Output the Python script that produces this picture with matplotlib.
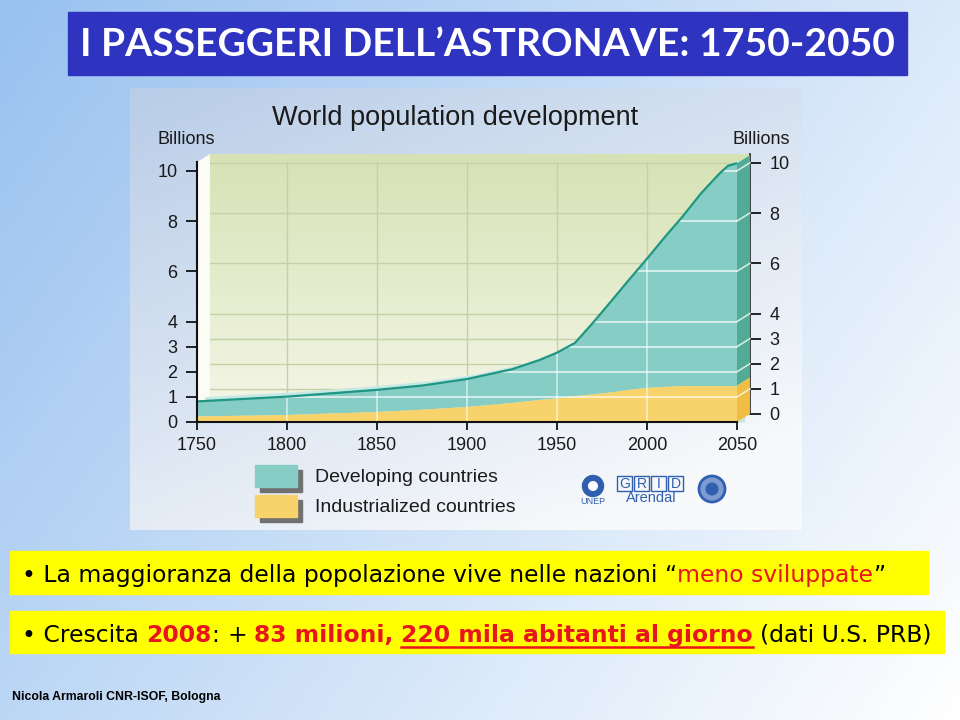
import numpy as np
import matplotlib
matplotlib.use('Agg')
import matplotlib.pyplot as plt
from matplotlib.patches import Rectangle, Polygon, Circle
from matplotlib.path import Path
from matplotlib.colors import to_rgb

W, H = 960, 720

# popolazione mondiale (miliardi)
anni = [1750, 1800, 1850, 1875, 1900, 1925, 1940, 1950, 1960, 1970, 1980,
        1990, 2000, 2010, 2020, 2030, 2040, 2045, 2050]
totale = [0.82, 1.01, 1.28, 1.45, 1.71, 2.10, 2.46, 2.76, 3.15, 3.95, 4.80,
          5.66, 6.50, 7.37, 8.20, 9.10, 9.87, 10.20, 10.30]
industrializzati = [0.24, 0.30, 0.42, 0.51, 0.62, 0.78, 0.90, 0.96, 1.05, 1.12, 1.20,
                    1.30, 1.38, 1.42, 1.45, 1.45, 1.45, 1.45, 1.45]

y_ticks = [0, 1, 2, 3, 4, 6, 8, 10]
x_ticks = [1750, 1800, 1850, 1900, 1950, 2000, 2050]

TEAL = '#86cdc5'
TEAL_LINE = '#1e9683'
TEAL_SIDE = '#52ab97'
TEAL_TOP = '#c4e9e5'
GIALLO = '#f8d36b'
GIALLO_SIDE = '#f0bd45'
ROSSO = '#e8141e'
CHART_FONT = 'Liberation Sans'
TXT_FONT = 'DejaVu Sans'

fig = plt.figure(figsize=(9.6, 7.2), dpi=100)


def fx(px):
    return px / W


def fy(py):
    return 1 - py / H


def gradient(c0, c1, wx, wy, n=200):
    xx, yy = np.meshgrid(np.linspace(0, 1, n), np.linspace(0, 1, n))
    t = np.clip(wx * xx + wy * yy, 0, 1)[..., None]
    return np.array(to_rgb(c0)) * (1 - t) + np.array(to_rgb(c1)) * t


# sfondo della slide (coordinate in pixel)
bg = fig.add_axes([0, 0, 1, 1])
bg.set_xlim(0, W)
bg.set_ylim(H, 0)
bg.axis('off')
bg.imshow(gradient('#98c1f0', '#ffffff', 0.65, 0.35), extent=[0, W, H, 0],
          aspect='auto', zorder=0)

# titolo
bg.add_patch(Rectangle((68, 12), 839, 63, color='#2e34bf', zorder=1))
bg.text(487, 44, 'I PASSEGGERI DELL\u2019ASTRONAVE: 1750-2050', color='white',
        fontsize=28.1, fontweight='bold', family='Lato', ha='center', va='center', zorder=2)

# riquadro immagine del grafico
bg.imshow(gradient('#b9cde8', '#f7f9fb', 0.45, 0.7), extent=[130, 802, 530, 88],
          aspect='auto', zorder=1)
bg.text(455, 118, 'World population development', fontsize=19.5, color='#1a1a1a',
        family=CHART_FONT, ha='center', va='center', zorder=2)
bg.text(186, 140, 'Billions', fontsize=13, color='#1a1a1a', family=CHART_FONT,
        ha='center', va='center', zorder=2)
bg.text(761, 140, 'Billions', fontsize=13, color='#1a1a1a', family=CHART_FONT,
        ha='center', va='center', zorder=2)

# legenda
for ytop, col, lab in [(465, TEAL, 'Developing countries'),
                       (495, GIALLO, 'Industrialized countries')]:
    bg.add_patch(Rectangle((260, ytop + 5), 42, 22, color='#707070', zorder=2))
    bg.add_patch(Rectangle((255, ytop), 42, 22, color=col, zorder=3))
    bg.text(315, ytop + 12, lab, fontsize=14, color='#1a1a1a', family=CHART_FONT,
            ha='left', va='center', zorder=3)

# loghi (semplificati)
blu = '#2f5fae'
bg.add_patch(Circle((593, 486), 10.5, facecolor=blu, edgecolor=blu, zorder=3))
bg.add_patch(Circle((593, 486), 5, facecolor='white', edgecolor='none', zorder=4))
bg.text(593, 501, 'UNEP', fontsize=6.5, color=blu, family=CHART_FONT,
        ha='center', va='center', zorder=3)
for i, ch in enumerate('GRID'):
    bg.add_patch(Rectangle((617 + i * 17, 476), 15, 15, facecolor='none',
                           edgecolor=blu, lw=1, zorder=3))
    bg.text(624.5 + i * 17, 483.5, ch, fontsize=10, color=blu, family=CHART_FONT,
            ha='center', va='center', zorder=3)
bg.text(651, 498, 'Arendal', fontsize=10.5, color=blu, family=CHART_FONT,
        ha='center', va='center', zorder=3)
bg.add_patch(Circle((712, 489), 13, facecolor='#7d9bd2', edgecolor=blu, lw=2, zorder=3))
bg.add_patch(Circle((712, 489), 6.5, facecolor=blu, edgecolor='none', zorder=4))

# parete di fondo (prospettiva)
dx, dy = 7.2, 0.32
ax_back = fig.add_axes([fx(210), fy(414), 540 / W, 260 / H])
ax_back.set_xlim(1750, 2050)
ax_back.set_ylim(0, 10.35)
ax_back.imshow(gradient('#d6e2b4', '#fbfbf3', 0.0, 0.8)[::-1], extent=[1750, 2050, 0, 10.35],
               aspect='auto', origin='lower', zorder=0)
for lv in y_ticks[1:]:
    ax_back.axhline(lv, color='#c6d0a8', lw=1, zorder=1)
for sp in ['left', 'top', 'bottom']:
    ax_back.spines[sp].set_visible(False)
ax_back.spines['right'].set_color('#333333')
ax_back.spines['right'].set_linewidth(1.3)
ax_back.set_xticks([])
ax_back.yaxis.tick_right()
ax_back.set_yticks(y_ticks)
ax_back.tick_params(axis='y', length=8, width=1.2, labelsize=13, pad=6,
                    labelcolor='#1a1a1a')
for t in ax_back.get_yticklabels():
    t.set_family(CHART_FONT)

# grafico principale
ax = fig.add_axes([fx(197), fy(422), 540 / W, 260 / H])
ax.set_xlim(1750, 2050)
ax.set_ylim(0, 10.35)
ax.patch.set_visible(False)

anni_a = np.array(anni)
tot_a = np.array(totale)
ind_a = np.array(industrializzati)

# parete laterale sinistra
ax.add_patch(Polygon([(1750, 0), (1750 + dx, dy), (1750 + dx, 10.35 + dy), (1750, 10.35)],
                     closed=True, facecolor='#fbfcf5', edgecolor='none', zorder=0.5, clip_on=False))
for yr in x_ticks[1:-1]:
    ax.axvline(yr, color='#c6d0a8', lw=1, zorder=0.6)

# superficie superiore (estrusione)
ax.fill_between(anni_a + dx * 0.6, tot_a + dy * 0.6, color=TEAL_TOP, lw=0, zorder=1, clip_on=False)
ax.fill_between(anni_a, ind_a, tot_a, color=TEAL, lw=0, zorder=2)
ax.fill_between(anni_a, 0, ind_a, color=GIALLO, lw=0, zorder=2)
ax.plot(anni_a, tot_a, color=TEAL_LINE, lw=1.6, zorder=4)

# facce laterali a destra
ax.add_patch(Polygon([(2050, ind_a[-1]), (2050 + dx, ind_a[-1] + dy),
                      (2050 + dx, tot_a[-1] + dy), (2050, tot_a[-1])],
                     closed=True, facecolor=TEAL_SIDE, edgecolor='none', zorder=2.5, clip_on=False))
ax.add_patch(Polygon([(2050, 0), (2050 + dx, dy), (2050 + dx, ind_a[-1] + dy), (2050, ind_a[-1])],
                     closed=True, facecolor=GIALLO_SIDE, edgecolor='none', zorder=2.5, clip_on=False))

# griglia bianca visibile sulle aree
area = Path([(anni[0], 0)] + list(zip(anni, totale)) + [(anni[-1], 0), (anni[0], 0)])
for lv in y_ticks[1:]:
    ln = ax.axhline(lv, color='white', lw=1.2, alpha=0.75, zorder=3)
    ln.set_clip_path(area, ax.transData)
    if lv < totale[-1]:
        ax.plot([2050, 2050 + dx], [lv, lv + dy], color='white', lw=1.2, alpha=0.75,
                zorder=3, clip_on=False)
for yr in x_ticks[1:-1]:
    ln = ax.axvline(yr, color='white', lw=1.2, alpha=0.6, zorder=3)
    ln.set_clip_path(area, ax.transData)

for sp in ['top', 'right']:
    ax.spines[sp].set_visible(False)
for sp in ['left', 'bottom']:
    ax.spines[sp].set_linewidth(1.5)
    ax.spines[sp].set_color('#111111')
    ax.spines[sp].set_zorder(5)
ax.set_yticks(y_ticks)
ax.set_xticks(x_ticks)
ax.tick_params(axis='y', length=8, width=1.2, labelsize=13, pad=6, labelcolor='#1a1a1a')
ax.tick_params(axis='x', length=6, width=1.2, labelsize=13, pad=5, labelcolor='#1a1a1a')
for t in ax.get_yticklabels() + ax.get_xticklabels():
    t.set_family(CHART_FONT)

# righe di testo evidenziate
bg.add_patch(Rectangle((10, 551), 918, 43, color='#ffff00', zorder=1))
bg.add_patch(Rectangle((10, 611), 934, 42, color='#ffff00', zorder=1))

renderer = fig.canvas.get_renderer()


def width_of(s, size, weight):
    t = bg.text(0, 0, s, fontsize=size, fontweight=weight, family=TXT_FONT)
    w = t.get_window_extent(renderer).width
    t.remove()
    return w


def draw_runs(x, y, runs, size):
    sp = width_of('x x', size, 'normal') - width_of('xx', size, 'normal')
    for s, col, weight, under in runs:
        if s == ' ':
            x += sp
            continue
        t = bg.text(x, y, s, fontsize=size, fontweight=weight, color=col,
                    family=TXT_FONT, ha='left', va='baseline', zorder=3)
        w = t.get_window_extent(renderer).width
        if under:
            bg.plot([x, x + w], [y + 5, y + 5], color=col, lw=1.8, zorder=3)
        x += w


riga1 = [('\u2022 La maggioranza della popolazione vive nelle nazioni', 'black', 'normal', False),
         (' ', None, None, False),
         ('\u201c', 'black', 'normal', False),
         ('meno sviluppate', ROSSO, 'normal', False),
         ('\u201d', 'black', 'normal', False)]
riga2 = [('\u2022 Crescita', 'black', 'normal', False), (' ', None, None, False),
         ('2008', ROSSO, 'bold', False), (':', 'black', 'normal', False),
         (' ', None, None, False), ('+', 'black', 'normal', False),
         (' ', None, None, False), ('83 milioni,', ROSSO, 'bold', False),
         (' ', None, None, False), ('220 mila abitanti al giorno', ROSSO, 'bold', True),
         (' ', None, None, False), ('(dati U.S. PRB)', 'black', 'normal', False)]
draw_runs(22, 582, riga1, 16.9)
draw_runs(22, 642, riga2, 16.9)

bg.text(12, 697, 'Nicola Armaroli CNR-ISOF, Bologna', fontsize=8.8, fontweight='bold',
        family='Liberation Sans', ha='left', va='center', zorder=3)

fig.savefig('out.png', dpi=100)
